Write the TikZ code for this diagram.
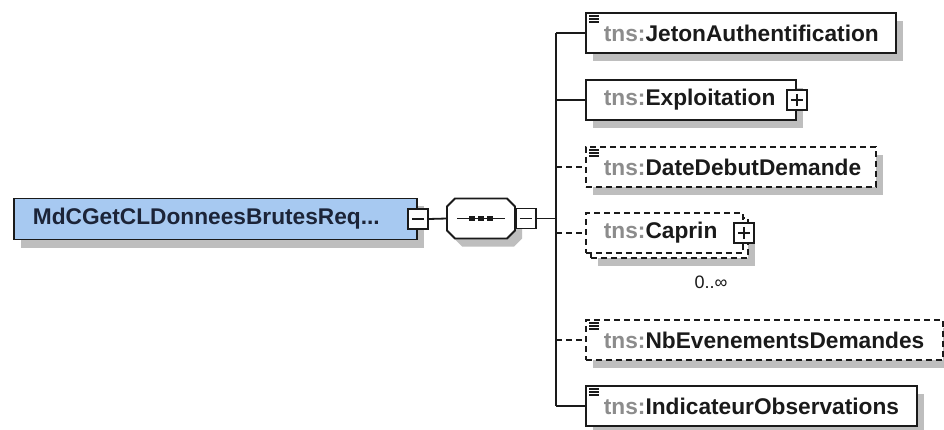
\documentclass[tikz,border=0pt]{standalone}
\usepackage{fontspec}
\setmainfont{Liberation Sans}
\usetikzlibrary{shadows}
\definecolor{linec}{HTML}{1A1A1A}
\definecolor{shadowc}{HTML}{BEBEBE}
\definecolor{bluefill}{HTML}{A7C9F1}
\definecolor{tnsc}{HTML}{8C8C8C}
\definecolor{textc}{HTML}{1A1A1A}
\definecolor{maintc}{HTML}{1C2438}
\newcommand{\tns}{{\color{tnsc}tns:}}
\newcommand{\octpath}[2]{([shift={(#1+8pt,#2)}]seq.north west) -- ([shift={(#1-8pt,#2)}]seq.north east)
  -- ([shift={(#1,#2-8pt)}]seq.north east) -- ([shift={(#1,#2+8pt)}]seq.south east)
  -- ([shift={(#1-8pt,#2)}]seq.south east) -- ([shift={(#1+8pt,#2)}]seq.south west)
  -- ([shift={(#1,#2+8pt)}]seq.south west) -- ([shift={(#1,#2-8pt)}]seq.north west) -- cycle}
\begin{document}
\begin{tikzpicture}[x=1pt,y=-1pt,
  shad/.style={drop shadow={shadow xshift=7pt,shadow yshift=-8pt,fill=shadowc,opacity=1}},
  elem/.style={draw=linec,line width=1.8pt,fill=white,minimum height=40pt,inner xsep=18pt,inner ysep=0pt,
    anchor=west,align=left,font=\fontsize{22.7}{26}\selectfont\bfseries,text=textc},
  opt/.style={dash pattern=on 6pt off 4pt},
  conn/.style={draw=linec,line width=1.8pt},
  toggle/.style={draw=linec,fill=white,line width=1.6pt,minimum size=20pt,inner sep=0pt},
  minusbox/.style={toggle,path picture={\draw[linec,line width=1.6pt]
      ([xshift=4pt]path picture bounding box.west) -- ([xshift=-4pt]path picture bounding box.east);}},
  plusbox/.style={toggle,path picture={\draw[linec,line width=1.6pt]
      ([xshift=4pt]path picture bounding box.west) -- ([xshift=-4pt]path picture bounding box.east)
      ([yshift=-4pt]path picture bounding box.north) -- ([yshift=4pt]path picture bounding box.south);}},
  eqicon/.pic={\draw[linec,line width=1.4pt] (0,0) -- (10,0) (0,3) -- (10,3) (0,6) -- (10,6);}
]
\useasboundingbox[fill=white] (0,0) rectangle (944,430);

% root element
\node[draw=linec,line width=1.8pt,fill=bluefill,shad,minimum height=41pt,inner xsep=19pt,inner ysep=0pt,
  text width=365pt,align=left,anchor=west,font=\fontsize{22.7}{26}\selectfont\bfseries,text=maintc]
  (main) at (13,219) {MdCGetCLDonneesBrutesReq...};
\node[minusbox] (mainminus) at (main.east) {};

% sequence compositor
\node[minimum width=68pt,minimum height=40pt,inner sep=0pt,outer sep=0pt] (seq) at (481,218.5) {};
\fill[shadowc] \octpath{7pt}{-8pt};
\draw[linec,line width=1.8pt,fill=white] \octpath{0pt}{0pt};
\draw[conn] ([xshift=-24pt]seq.center) -- ([xshift=24pt]seq.center);
\foreach \d in {-9,0,9} \fill[linec] ([xshift=\d pt]seq.center) ++(-3,-2.8) rectangle ++(6,5.6);
\node[minusbox,anchor=west] (seqminus) at (seq.east) {};
\draw[conn] (mainminus.east) -- (seq.west);

% bar
\coordinate (bartop) at (556,33);
\coordinate (barbot) at (556,406);
\draw[conn] (bartop) -- (barbot);
\draw[conn] (seqminus.east) -- (seqminus.east -| bartop);

% children
\node[elem,shad,text width=274pt] (jeton) at (585,33) {\tns JetonAuthentification};
\node[elem,shad,text width=174pt] (expl) at (585,100) {\tns Exploitation};
\node[plusbox] (explplus) at (expl.east) {};
\node[elem,opt,shad,text width=254pt] (date) at (585,167) {\tns DateDebutDemande};
\node[draw=linec,line width=1.8pt,opt,fill=white,shad,minimum width=157pt,minimum height=40pt,inner sep=0pt,anchor=west]
  (caprinback) at (590,238) {};
\node[elem,opt,text width=121pt] (caprin) at (585,233) {\tns Caprin};
\node[plusbox] (caprinplus) at (caprin.east) {};
\node[font=\fontsize{18}{20}\selectfont,text=textc,inner sep=0pt] (mult) at (711,282) {0..∞};
\node[elem,opt,shad,text width=321pt] (nb) at (585,340) {\tns NbEvenementsDemandes};
\node[elem,shad,text width=295pt] (ind) at (585,406) {\tns IndicateurObservations};

% icons
\foreach \n in {jeton,date,nb,ind} \pic at ([shift={(4pt,-4pt)}]\n.north west) {eqicon};

% connectors
\draw[conn] (bartop |- jeton.west) -- (jeton.west);
\draw[conn] (bartop |- expl.west) -- (expl.west);
\draw[conn,opt] (bartop |- date.west) -- (date.west);
\draw[conn,opt] (bartop |- caprin.west) -- (caprin.west);
\draw[conn,opt] (bartop |- nb.west) -- (nb.west);
\draw[conn] (bartop |- ind.west) -- (ind.west);
\end{tikzpicture}
\end{document}
